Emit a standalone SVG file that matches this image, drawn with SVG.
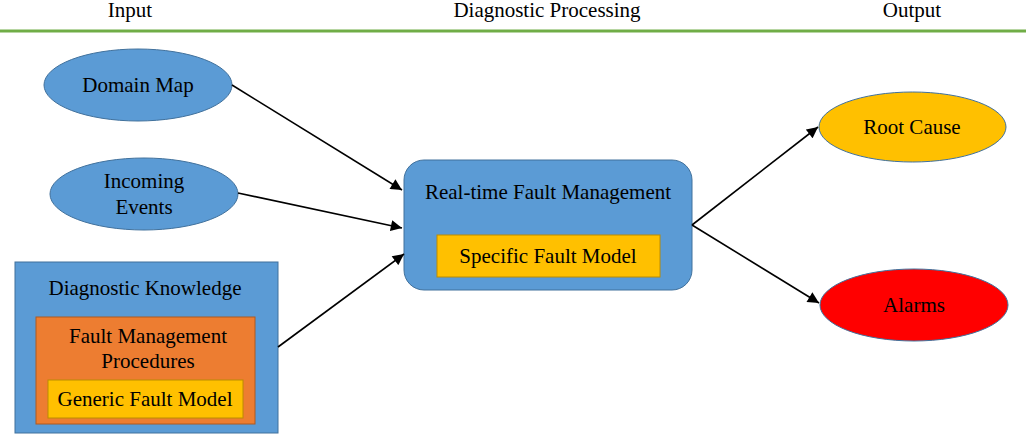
<svg xmlns="http://www.w3.org/2000/svg" width="1029" height="435" viewBox="0 0 1029 435">
<defs>
<style>
text{font-family:"Liberation Serif","Times New Roman",serif;font-size:21px;fill:#000;text-anchor:middle}
.blue{fill:#5B9BD5;stroke:#41719C;stroke-width:1}
.orange{fill:#ED7D31;stroke:#AE5A21;stroke-width:1}
.yellow{fill:#FFC000;stroke:#BC8C00;stroke-width:1}
.red{fill:#FF0000;stroke:#41719C;stroke-width:1}
.conn line{stroke:#000;stroke-width:1.6;marker-end:url(#arr)}
</style>
<marker id="arr" viewBox="0 0 10 10" refX="10" refY="5" markerWidth="7.5" markerHeight="7" orient="auto" markerUnits="strokeWidth">
<path d="M0,0 L10,5 L0,10 z" fill="#000"/>
</marker>
</defs>
<rect width="1029" height="435" fill="#fff"/>
<g id="header">
<text x="130" y="17">Input</text>
<text x="547" y="17">Diagnostic Processing</text>
<text x="912" y="17">Output</text>
<line x1="0" y1="31" x2="1026" y2="31" stroke="#70AD47" stroke-width="3"/>
</g>
<g id="domain-map">
<ellipse class="blue" cx="138" cy="85" rx="94" ry="36"/>
<text x="138" y="92">Domain Map</text>
</g>
<g id="incoming-events">
<ellipse class="blue" cx="144" cy="194" rx="94" ry="36"/>
<text x="144" y="188">Incoming</text>
<text x="144" y="214">Events</text>
</g>
<g id="diagnostic-knowledge">
<rect class="blue" x="15" y="262" width="263" height="171"/>
<text x="145" y="295">Diagnostic Knowledge</text>
<rect class="orange" x="36" y="317" width="219" height="107"/>
<text x="148" y="343">Fault Management</text>
<text x="148" y="368">Procedures</text>
<rect class="yellow" x="48" y="380" width="195" height="38"/>
<text x="145" y="406">Generic Fault Model</text>
</g>
<g id="realtime-fault-management">
<rect class="blue" x="404" y="160" width="288" height="130" rx="20" ry="20"/>
<text x="548" y="199">Real-time Fault Management</text>
<rect class="yellow" x="437" y="235" width="223" height="42"/>
<text x="548" y="263">Specific Fault Model</text>
</g>
<g id="root-cause">
<ellipse class="yellow" cx="912.5" cy="127" rx="93.5" ry="35" style="stroke:#41719C"/>
<text x="912" y="134">Root Cause</text>
</g>
<g id="alarms">
<ellipse class="red" cx="914" cy="305" rx="94" ry="36"/>
<text x="914" y="312">Alarms</text>
</g>
<g class="conn" id="connectors">
<line x1="232" y1="85" x2="402" y2="190"/>
<line x1="238" y1="193" x2="402" y2="228"/>
<line x1="278" y1="347" x2="404" y2="254"/>
<line x1="692" y1="225" x2="818" y2="127"/>
<line x1="692" y1="225" x2="819" y2="303"/>
</g>
</svg>
